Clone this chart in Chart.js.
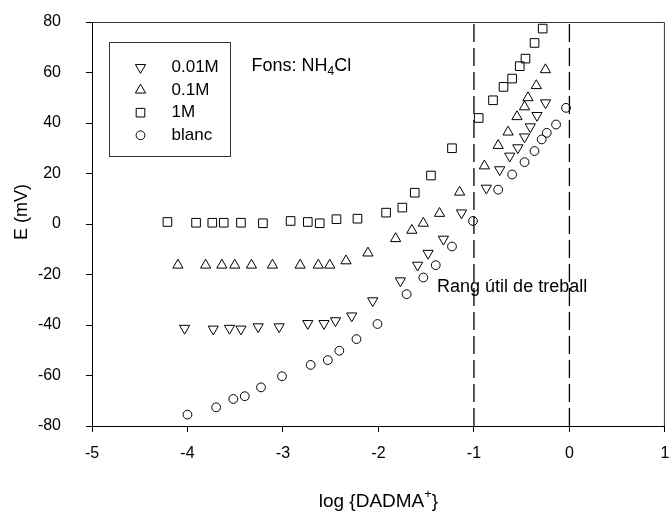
<!DOCTYPE html>
<html>
<head>
<meta charset="utf-8">
<script src="https://cdn.jsdelivr.net/npm/chart.js@4.4.1/dist/chart.umd.min.js"></script>
<style>
  html, body { margin: 0; padding: 0; background: #fff; }
</style>
</head>
<body>
<canvas id="myChart" width="672" height="513"></canvas>
<script>
const ctx = document.querySelector("#myChart").getContext("2d");
const fontFamily = "'Liberation Sans', Arial, sans-serif";

// series values (x = log {DADMA+}, y = E in mV)
const logC001 = [-4.03, -3.73, -3.56, -3.44, -3.26, -3.04, -2.74, -2.57, -2.45, -2.28, -2.06, -1.77, -1.59, -1.48, -1.32, -1.13, -0.87, -0.73, -0.625, -0.54, -0.47, -0.41, -0.34, -0.25];
const e001 = [-41.3, -41.6, -41.3, -41.6, -40.7, -40.7, -39.4, -39.4, -38.3, -36.4, -30.4, -22.5, -16.3, -11.6, -6.0, 4.4, 14.2, 21.5, 26.9, 30.2, 34.5, 38.5, 43.0, 48.0];

const logC01 = [-4.10, -3.81, -3.64, -3.505, -3.33, -3.11, -2.82, -2.63, -2.51, -2.34, -2.11, -1.82, -1.65, -1.53, -1.36, -1.15, -0.89, -0.746, -0.642, -0.549, -0.47, -0.434, -0.347, -0.251];
const e01 = [-16.3, -16.3, -16.3, -16.3, -16.3, -16.3, -16.3, -16.3, -16.3, -14.6, -11.5, -5.8, -2.5, 0.3, 4.2, 12.6, 23.0, 31.1, 36.4, 42.5, 46.4, 50.0, 54.8, 61.1];

const logC1 = [-4.21, -3.91, -3.74, -3.62, -3.44, -3.21, -2.92, -2.74, -2.615, -2.44, -2.22, -1.92, -1.75, -1.62, -1.45, -1.23, -0.95, -0.80, -0.69, -0.60, -0.52, -0.46, -0.365, -0.28];
const e1 = [0.8, 0.5, 0.5, 0.5, 0.5, 0.3, 1.2, 0.8, 0.3, 1.9, 2.1, 4.5, 6.5, 12.4, 19.2, 30.0, 42.0, 49.0, 54.3, 57.6, 62.5, 65.5, 71.7, 77.4];

const logBlanc = [-4.00, -3.70, -3.52, -3.40, -3.23, -3.01, -2.71, -2.53, -2.41, -2.23, -2.01, -1.705, -1.53, -1.40, -1.23, -1.01, -0.746, -0.60, -0.47, -0.366, -0.29, -0.237, -0.14, -0.036];
const eBlanc = [-75.5, -72.6, -69.3, -68.2, -64.7, -60.3, -55.8, -53.9, -50.2, -45.6, -39.6, -27.8, -21.2, -16.3, -8.9, 1.2, 13.6, 19.6, 24.5, 28.9, 33.5, 36.1, 39.4, 46.0];

const seriesLabels = ["0.01M", "0.1M", "1M", "blanc"];
const xTicks = [-5, -4, -3, -2, -1, 0, 1];
const yTicks = [-80, -60, -40, -20, 0, 20, 40, 60, 80];
// limits of the useful working range (dashed lines)
const rangeLimits = [-1, 0];

// marker look for each series, same order as seriesLabels
const markers = [
  { pointStyle: "triangle", rotation: 180, radius: 5.9 },
  { pointStyle: "triangle", rotation: 0, radius: 5.9 },
  { pointStyle: "rect", rotation: 0, radius: 6.1 },
  { pointStyle: "circle", rotation: 0, radius: 4.4 },
];

const toPoints = (xs, ys) => xs.map((x, i) => ({ x: x, y: ys[i] }));
const seriesData = [
  toPoints(logC001, e001),
  toPoints(logC01, e01),
  toPoints(logC1, e1),
  toPoints(logBlanc, eBlanc),
];

const datasets = seriesData.map((data, i) => ({
  label: seriesLabels[i],
  data: data,
  showLine: false,
  pointStyle: markers[i].pointStyle,
  rotation: markers[i].rotation,
  pointRadius: markers[i].radius,
  pointHoverRadius: markers[i].radius,
  pointBorderWidth: 1,
  borderColor: "#000",
  backgroundColor: "rgba(0,0,0,0)",
}));

// vertical dashed lines for the working range
for (const limit of rangeLimits) {
  datasets.push({
    label: "limit " + limit,
    data: [{ x: limit, y: yTicks[0] }, { x: limit, y: yTicks[yTicks.length - 1] }],
    showLine: true,
    borderColor: "#000",
    borderWidth: 1.3,
    borderDash: [18, 6],
    pointRadius: 0,
  });
}

// draws frame, legend box and the free texts
const extrasPlugin = {
  id: "extras",
  afterDraw(chart) {
    const c = chart.ctx;
    const area = chart.chartArea;
    const xs = chart.scales.x;
    const ys = chart.scales.y;
    c.save();

    // top and right part of the frame
    c.strokeStyle = "#333";
    c.lineWidth = 1;
    c.beginPath();
    c.moveTo(area.left, area.top + 0.5);
    c.lineTo(area.right - 0.5, area.top + 0.5);
    c.lineTo(area.right - 0.5, area.bottom);
    c.stroke();

    // legend box
    const boxLeft = area.left + 17.5;
    const boxTop = area.top + 20.5;
    c.strokeRect(boxLeft, boxTop, 121, 114);
    c.font = `17px ${fontFamily}`;
    c.textBaseline = "middle";
    c.textAlign = "left";
    seriesLabels.forEach((label, i) => {
      const rowY = boxTop + 25 + i * 22.6;
      c.strokeStyle = "#000";
      c.fillStyle = "rgba(0,0,0,0)";
      Chart.helpers.drawPoint(c, { ...markers[i], borderWidth: 1 }, boxLeft + 31, rowY);
      c.fillStyle = "#000";
      c.fillText(label, boxLeft + 62, rowY);
    });

    // "Fons: NH4Cl" with subscript
    c.textBaseline = "alphabetic";
    c.font = `18px ${fontFamily}`;
    let tx = xs.getPixelForValue(-3.33);
    const ty = ys.getPixelForValue(60.4);
    c.fillText("Fons: NH", tx, ty);
    tx += c.measureText("Fons: NH").width;
    c.font = `12px ${fontFamily}`;
    c.fillText("4", tx, ty + 4);
    tx += c.measureText("4").width;
    c.font = `18px ${fontFamily}`;
    c.fillText("Cl", tx, ty);

    // range label
    c.fillText("Rang útil de treball", xs.getPixelForValue(-1.386), ys.getPixelForValue(-27));

    // x axis title with superscript
    const bigFont = `19px ${fontFamily}`;
    const supFont = `13px ${fontFamily}`;
    c.font = bigFont;
    const partA = "log {DADMA";
    const wA = c.measureText(partA).width;
    const wC = c.measureText("}").width;
    c.font = supFont;
    const wB = c.measureText("+").width;
    let lx = (area.left + area.right) / 2 - (wA + wB + wC) / 2;
    const ly = 507;
    c.font = bigFont;
    c.fillText(partA, lx, ly);
    lx += wA;
    c.font = supFont;
    c.fillText("+", lx, ly - 9);
    lx += wB;
    c.font = bigFont;
    c.fillText("}", lx, ly);

    // y axis title
    c.translate(22, 212);
    c.rotate(-Math.PI / 2);
    c.textAlign = "center";
    c.textBaseline = "middle";
    c.font = `18px ${fontFamily}`;
    c.fillText("E (mV)", 0, 0);

    c.restore();
  },
};

const chartConfig = {
  type: "scatter",
  data: { datasets: datasets },
  options: {
    responsive: false,
    animation: false,
    layout: { padding: { top: 22, right: 2, left: 0, bottom: 0 } },
    plugins: {
      legend: { display: false },
      tooltip: { enabled: false },
    },
    scales: {
      x: {
        type: "linear",
        min: xTicks[0],
        max: xTicks[xTicks.length - 1],
        afterBuildTicks: (scale) => {
          scale.ticks = xTicks.map((v) => ({ value: v }));
        },
        afterFit: (scale) => {
          scale.height = 87;
          scale.paddingLeft = 0;
          scale.paddingRight = 0;
        },
        ticks: {
          color: "#000",
          padding: 12,
          maxRotation: 0,
          font: { family: fontFamily, size: 16 },
        },
        grid: {
          drawOnChartArea: false,
          drawTicks: true,
          tickLength: 6,
          tickColor: "#000",
        },
        border: { display: true, color: "#000", width: 1 },
      },
      y: {
        type: "linear",
        min: yTicks[0],
        max: yTicks[yTicks.length - 1],
        afterBuildTicks: (scale) => {
          scale.ticks = yTicks.map((v) => ({ value: v }));
        },
        afterFit: (scale) => {
          scale.width = 92;
          scale.paddingTop = 0;
          scale.paddingBottom = 0;
        },
        ticks: {
          color: "#000",
          padding: 25,
          font: { family: fontFamily, size: 16 },
        },
        grid: {
          drawOnChartArea: false,
          drawTicks: true,
          tickLength: 6,
          tickColor: "#000",
        },
        border: { display: true, color: "#000", width: 1 },
      },
    },
  },
  plugins: [extrasPlugin],
};

const resultsChart = new Chart(ctx, chartConfig);
</script>
</body>
</html>
